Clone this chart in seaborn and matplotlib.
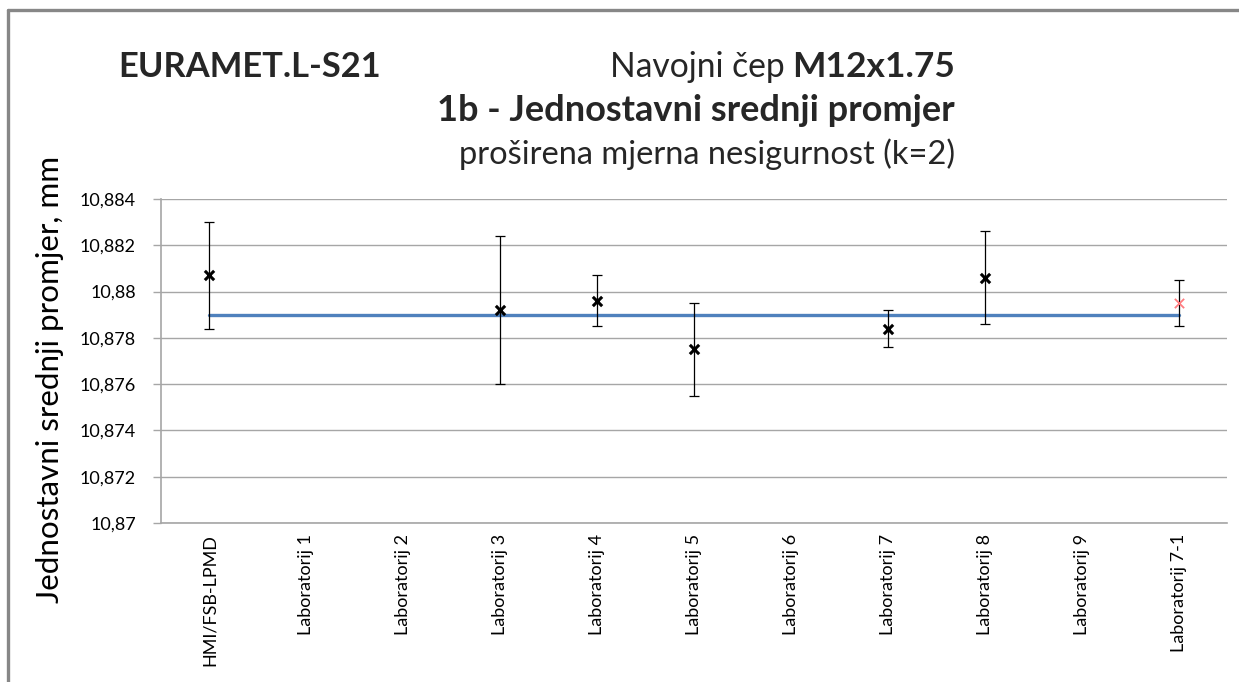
import numpy as np
import pandas as pd
import matplotlib
matplotlib.use("Agg")
import matplotlib.pyplot as plt
from matplotlib.lines import Line2D
import seaborn as sns

# Laboratories taking part in the comparison
labs = ["HMI/FSB-LPMD", "Laboratorij 1", "Laboratorij 2", "Laboratorij 3",
        "Laboratorij 4", "Laboratorij 5", "Laboratorij 6", "Laboratorij 7",
        "Laboratorij 8", "Laboratorij 9", "Laboratorij 7-1"]

# Measured simple pitch diameter (mm) and expanded uncertainty U (k=2)
measured = [10.8807, np.nan, np.nan, 10.8792, 10.8796, 10.8775, np.nan,
            10.8784, 10.8806, np.nan, 10.8795]
uncertainty = [0.0023, np.nan, np.nan, 0.0032, 0.0011, 0.0020, np.nan,
               0.0008, 0.0020, np.nan, 0.0010]
# Reference value of the comparison
reference = [10.879] * len(labs)

yticks = [10.87, 10.872, 10.874, 10.876, 10.878, 10.88, 10.882, 10.884]
ytick_labels = ["10,87", "10,872", "10,874", "10,876", "10,878", "10,88",
                "10,882", "10,884"]

df = pd.DataFrame({"pos": np.arange(len(labs)), "lab": labs,
                   "value": measured, "U": uncertainty, "ref": reference})

sns.set_theme(style="white")
plt.rcParams["font.family"] = ["Lato", "DejaVu Sans"]

W, H = 1239, 682
fig = plt.figure(figsize=(W / 100, H / 100), dpi=100)
ax = fig.add_axes([161 / W, 1 - 523 / H, (1227 - 161) / W, (523 - 199) / H])

grid_c = "#A6A6A6"
for y in yticks:
    ax.axhline(y, color=grid_c, lw=1.0, zorder=0)

# reference line
sns.lineplot(data=df, x="pos", y="ref", ax=ax, color="#4F81BD", lw=2.4,
             zorder=2, legend=False)

# error bars
ok = df.dropna()
ax.errorbar(ok["pos"], ok["value"], yerr=ok["U"], fmt="none",
            ecolor="black", elinewidth=0.9, capsize=3.8, capthick=0.9,
            zorder=3)

# measured values
main = ok[ok["lab"] != "Laboratorij 7-1"]
last = ok[ok["lab"] == "Laboratorij 7-1"]
sns.scatterplot(data=main, x="pos", y="value", ax=ax, marker="x",
                color="black", s=45, linewidth=2.2, zorder=4)
sns.scatterplot(data=last, x="pos", y="value", ax=ax, marker="x",
                color="#FF7C80", s=45, linewidth=1.3, zorder=4)

ax.set_xlim(-0.5, len(labs) - 0.5)
ax.set_ylim(10.87, 10.884)
ax.set_yticks(yticks)
ax.set_yticklabels(ytick_labels, fontsize=13, color="black")
ax.set_xticks(df["pos"])
ax.set_xticklabels(labs, rotation=90, fontsize=13, color="black",
                   va="top")
ax.tick_params(axis="y", which="major", length=6, width=1, color=grid_c,
               direction="out", pad=12, left=True)
ax.tick_params(axis="x", length=0, pad=8)
ax.set_xlabel("")
ax.set_ylabel("Jednostavni srednji promjer, mm", fontsize=22.6,
              color="black")
ax.yaxis.set_label_coords((64 - 161) / 1066, (523 - 379) / 324)
for side in ["top", "right"]:
    ax.spines[side].set_visible(False)
for side in ["left", "bottom"]:
    ax.spines[side].set_color(grid_c)
    ax.spines[side].set_linewidth(1.2)

# chart frame
frame_c = "#878787"
fig.add_artist(Line2D([8 / W, 1], [1 - 10 / H, 1 - 10 / H], color=frame_c,
                      lw=2.4, transform=fig.transFigure))
fig.add_artist(Line2D([8 / W, 8 / W], [0, 1 - 10 / H], color=frame_c,
                      lw=2.4, transform=fig.transFigure))

# headings
fig.text(118 / W, 1 - 77 / H, "EURAMET.L-S21", fontsize=24.8,
         fontweight="bold", ha="left", va="baseline")
right_x = 955 / W
t_bold = fig.text(right_x, 1 - 77 / H, "M12x1.75", fontsize=25.5,
                  fontweight="bold", ha="right", va="baseline")
fig.canvas.draw()
bb = t_bold.get_window_extent(renderer=fig.canvas.get_renderer())
fig.text((bb.x0 + 1) / W, 1 - 77 / H, "Navojni čep ", fontsize=24.2,
         ha="right", va="baseline")
fig.text(right_x, 1 - 121 / H, "1b - Jednostavni srednji promjer",
         fontsize=26, fontweight="bold", ha="right", va="baseline")
fig.text(right_x, 1 - 164 / H, "proširena mjerna nesigurnost (k=2)",
         fontsize=23.5, ha="right", va="baseline")

fig.savefig("out.png", dpi=100)
